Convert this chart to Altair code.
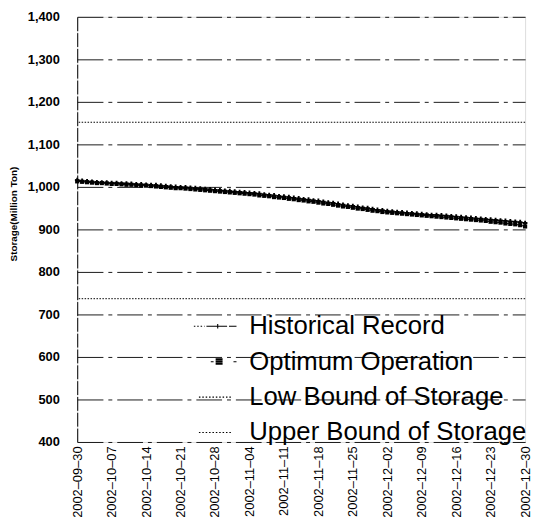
import altair as alt
import pandas as pd

# ---- data ----
start_date = "2002-09-30"
end_date = "2002-12-30"

historical = [
    1016, 1014, 1013, 1012, 1011, 1010, 1010,
    1009, 1009, 1008, 1008, 1007, 1006, 1006,
    1005, 1004, 1004, 1003, 1002, 1001, 1000,
    999, 999, 998, 997, 996, 995, 994,
    993, 992, 991, 990, 989, 988, 987,
    986, 985, 984, 982, 981, 980, 978,
    977, 976, 974, 973, 971, 970, 968,
    967, 965, 963, 962, 960, 958, 956,
    955, 953, 951, 950, 948, 946, 945,
    943, 942, 941, 940, 939, 938, 937,
    936, 935, 934, 934, 933, 932, 931,
    930, 929, 928, 927, 926, 925, 924,
    923, 922, 921, 920, 919, 918, 917,
    915,
]

optimum = [
    1013, 1012, 1011, 1010, 1009, 1009, 1008,
    1007, 1007, 1006, 1005, 1005, 1004, 1003,
    1003, 1002, 1001, 1000, 999, 998, 997,
    997, 996, 995, 994, 993, 992, 991,
    990, 989, 988, 987, 986, 985, 984,
    983, 982, 980, 979, 978, 976, 975,
    974, 972, 971, 969, 968, 966, 965,
    963, 961, 960, 958, 956, 954, 953,
    951, 949, 948, 946, 944, 943, 941,
    940, 939, 938, 937, 936, 935, 934,
    933, 932, 931, 930, 929, 928, 927,
    926, 925, 924, 923, 922, 921, 920,
    918, 917, 916, 914, 913, 912, 910,
    907,
]

low_bound = 737
upper_bound = 1152

tick_dates = [
    "2002-09-30", "2002-10-07", "2002-10-14", "2002-10-21", "2002-10-28",
    "2002-11-04", "2002-11-11", "2002-11-18", "2002-11-25", "2002-12-02",
    "2002-12-09", "2002-12-16", "2002-12-23", "2002-12-30",
]
y_ticks = [400, 500, 600, 700, 800, 900, 1000, 1100, 1200, 1300, 1400]

series_names = ["Historical Record", "Optimum Operation",
                "Low Bound of Storage", "Upper Bound of Storage"]

# ---- tables ----
dates = pd.date_range(start_date, end_date, freq="D").strftime("%Y-%m-%d").tolist()
day_index = list(range(len(dates)))
df = pd.DataFrame({"day": day_index, "date": dates,
                   "historical": historical, "optimum": optimum})
bounds = pd.DataFrame({"series": series_names[2:], "value": [low_bound, upper_bound]})
legend_df = pd.DataFrame({"series": series_names})

tick_values = [dates.index(d) for d in tick_dates]
label_map = "{" + ",".join(
    "'%d':'%s'" % (v, d.replace("-", "\u2013")) for v, d in zip(tick_values, tick_dates)
) + "}"

x_enc = alt.X(
    "day:Q",
    scale=alt.Scale(domain=[day_index[0], day_index[-1]], nice=False, zero=False),
    axis=alt.Axis(
        title=None, values=tick_values, labelExpr=label_map + "[format(datum.value,'d')]",
        labelAngle=270, labelFont="Liberation Sans", labelFontSize=13,
        labelColor="black", ticks=False, domain=False, grid=False, labelPadding=4,
        labelBaseline="middle", labelAlign="right", labelOverlap=False,
        labelFlush=False, labelBound=False, labelSeparation=0,
    ),
)
y_scale = alt.Scale(domain=[400, 1400], nice=False, zero=False)
y_axis = alt.Axis(
    title="Storage(Million Ton)", values=y_ticks, format=",d",
    labelFont="Liberation Sans", labelFontSize=13, labelFontWeight="bold",
    labelColor="black", labelPadding=18, ticks=False,
    titleFont="Liberation Sans", titleFontSize=10, titleFontWeight="bold",
    titleColor="black", titlePadding=9, titleY=199,
    grid=True, gridColor="black", gridDash=[26, 5, 4, 5], gridWidth=1, gridOpacity=0.9,
    domain=True, domainColor="black", domainDash=[14, 2], domainWidth=1,
)

base = alt.Chart(df)

hist_line = base.mark_line(color="black", strokeWidth=1).encode(
    x=x_enc, y=alt.Y("historical:Q", scale=y_scale, axis=y_axis))
hist_pts = base.mark_point(shape="cross", filled=True, color="black", size=22, opacity=1).encode(
    x=x_enc, y="historical:Q")
opt_line = base.mark_line(color="black", strokeWidth=1).encode(
    x=x_enc, y="optimum:Q")
opt_pts = base.mark_point(shape="square", filled=True, color="black", size=18, opacity=1).encode(
    x=x_enc, y="optimum:Q")

bound_rules = alt.Chart(bounds).mark_rule(color="black", strokeDash=[1.5, 1.5], strokeWidth=1).encode(
    y="value:Q")


def dotted(x0, x1, seg=0.08, gap=0.1):
    parts = []
    x = x0
    while x < x1:
        parts.append("M%.3f,0H%.3f" % (x, min(x + seg, x1)))
        x += seg + gap
    return "".join(parts)


square_strokes = "".join("M-0.21,%.3fH0.16" % yy for yy in [-0.16, -0.1, -0.04, 0.02, 0.08, 0.14])

legend_paths = [
    dotted(-1.37, -0.8) + "M-0.7,0H0.4M0.5,0H0.9M-0.1,-0.12V0.12",
    "M-0.47,0H-0.32" + square_strokes + "M0.74,0H0.9",
    dotted(-1.1, 0.63),
    dotted(-1.1, 0.63),
]

legend_layer = alt.Chart(legend_df).mark_point(
    opacity=0, filled=False, color="black", strokeWidth=1.1
).encode(
    shape=alt.Shape(
        "series:N",
        scale=alt.Scale(domain=series_names, range=legend_paths),
        legend=alt.Legend(
            title=None, orient="none", legendX=124, legendY=293,
            labelFont="Liberation Sans", labelFontSize=26, labelColor="black",
            labelOffset=10, symbolSize=1444, symbolOpacity=1,
            symbolStrokeColor="black", symbolStrokeWidth=1.1,
            rowPadding=2.8, padding=0, labelLimit=400,
        ),
    ),
)

chart = alt.layer(
    hist_line, opt_line, hist_pts, opt_pts, bound_rules, legend_layer
).properties(
    width=453, height=430,
    padding={"left": 0, "top": 0, "right": 2, "bottom": 0},
).configure_view(stroke=None).configure(background="white").configure_axisX(
    labelOverlap=False, labelSeparation=0
)

chart.save("out.html", embed_options={"renderer": "svg", "actions": False})
